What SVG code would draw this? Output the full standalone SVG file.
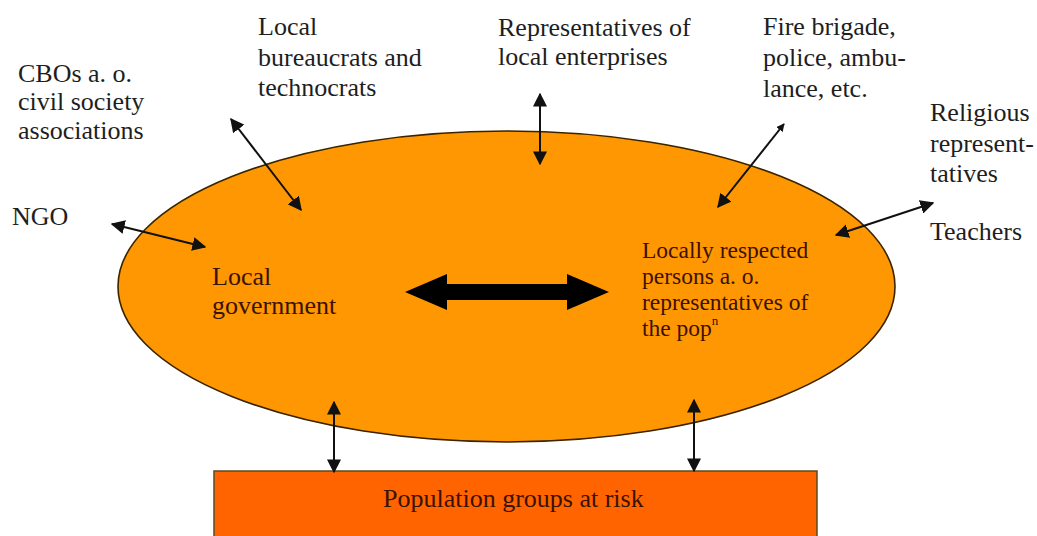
<svg xmlns="http://www.w3.org/2000/svg" width="1037" height="536" viewBox="0 0 1037 536">
<defs>
<style>
.inner{font-family:"Liberation Serif","Times New Roman",serif;font-size:26px;fill:#3a1200}
.innersm{font-family:"Liberation Serif","Times New Roman",serif;font-size:23.5px;fill:#3a1200}
.outer{font-family:"Liberation Serif","Times New Roman",serif;font-size:26px;fill:#1e1e1e}
.conn{stroke:#111;stroke-width:2;fill:none;marker-start:url(#ah);marker-end:url(#ah)}
</style>
<marker id="ah" viewBox="0 0 10 10" refX="9" refY="5" markerWidth="7" markerHeight="7" markerUnits="strokeWidth" orient="auto-start-reverse">
<path d="M0,0 L10,5 L0,10 z" fill="#111"/>
</marker>
<marker id="ahs" viewBox="0 0 10 10" refX="9" refY="5" markerWidth="4" markerHeight="4" markerUnits="strokeWidth" orient="auto-start-reverse">
<path d="M0,0 L10,5 L0,10 z" fill="#111"/>
</marker>
</defs>
<rect width="1037" height="536" fill="#ffffff"/>

<g id="core">
<ellipse cx="506.5" cy="286.5" rx="388.5" ry="155.5" fill="#ff9703" stroke="#3a2400" stroke-width="1.6"/>
</g>

<g id="population">
<rect x="214" y="471" width="603" height="70" fill="#ff6400" stroke="#5a4a20" stroke-width="1.5"/>
<text class="inner" x="383" y="507">Population groups at risk</text>
</g>

<g id="local-government">
<text class="inner" x="212" y="285">Local</text>
<text class="inner" x="212" y="314">government</text>
</g>

<g id="respected-persons">
<text class="innersm" x="642" y="258">Locally respected</text>
<text class="innersm" x="642" y="284">persons a. o.</text>
<text class="innersm" x="642" y="310">representatives of</text>
<text class="innersm" x="642" y="336">the pop<tspan font-size="13" dy="-11">n</tspan></text>
</g>

<g id="cbos">
<text class="outer" x="18" y="82">CBOs a. o.</text>
<text class="outer" x="18" y="110">civil society</text>
<text class="outer" x="18" y="139">associations</text>
</g>

<g id="bureaucrats">
<text class="outer" x="258" y="35">Local</text>
<text class="outer" x="258" y="66">bureaucrats and</text>
<text class="outer" x="258" y="96">technocrats</text>
</g>

<g id="enterprises">
<text class="outer" x="498" y="36">Representatives of</text>
<text class="outer" x="498" y="65">local enterprises</text>
</g>

<g id="fire-brigade">
<text class="outer" x="763" y="35">Fire brigade,</text>
<text class="outer" x="763" y="66">police, ambu-</text>
<text class="outer" x="763" y="97">lance, etc.</text>
</g>

<g id="religious">
<text class="outer" x="930" y="121">Religious</text>
<text class="outer" x="930" y="152">represent-</text>
<text class="outer" x="930" y="182">tatives</text>
</g>

<g id="teachers">
<text class="outer" x="930" y="240">Teachers</text>
</g>

<g id="ngo">
<text class="outer" x="12" y="225">NGO</text>
</g>

<g id="connectors">
<line class="conn" x1="231" y1="119" x2="301" y2="210"/>
<line class="conn" x1="112" y1="224" x2="205" y2="247"/>
<line class="conn" x1="540" y1="94" x2="540" y2="164"/>
<line x1="784" y1="124" x2="718" y2="207" stroke="#111" stroke-width="2" marker-end="url(#ah)" marker-start="url(#ahs)"/>
<line class="conn" x1="836" y1="235" x2="933" y2="203"/>
<line class="conn" x1="334" y1="402" x2="334" y2="472"/>
<line class="conn" x1="694" y1="400" x2="694" y2="471"/>
<polygon points="405,292 447,274 447,284 567,284 567,274 609,292 567,310 567,300 447,300 447,310" fill="#000"/>
</g>
</svg>
